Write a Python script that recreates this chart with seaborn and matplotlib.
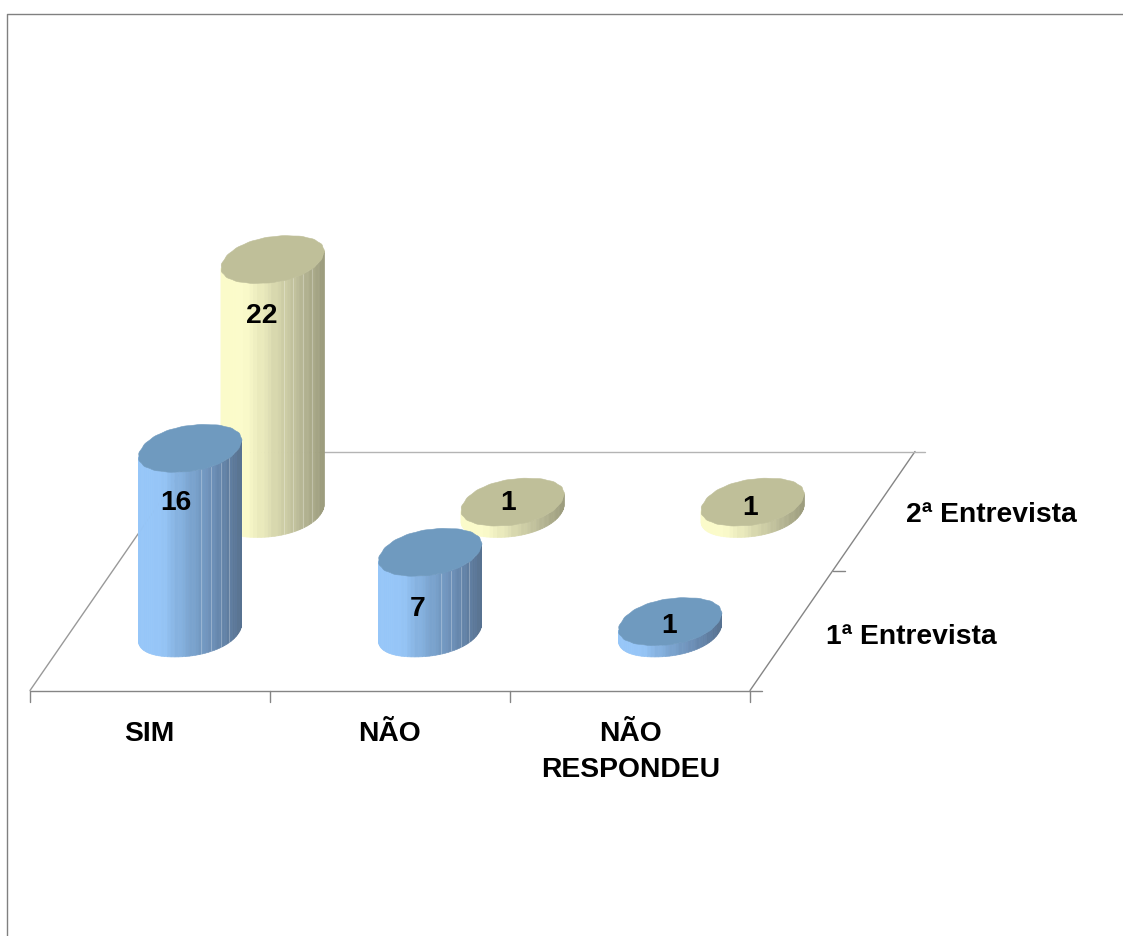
import numpy as np
import pandas as pd
import matplotlib
matplotlib.use("Agg")
import matplotlib.pyplot as plt
import seaborn as sns

# Survey answers per interview round
categories = ["SIM", "NÃO", "NÃO\nRESPONDEU"]
series_names = ["1ª Entrevista", "2ª Entrevista"]
first_round = [16, 7, 1]
second_round = [22, 1, 1]

sns.set_theme(style="white")
plt.rcParams["font.family"] = ["Liberation Sans", "DejaVu Sans"]

# Oblique projection of the floor plane onto the page
ORIGIN_X, ORIGIN_Y = 30.0, 691.5
CAT_STEP = 240.0
DEPTH_DX, DEPTH_DY = 165.0, -239.0
VALUE_STEP = -11.55
ROW_DEPTH = [0.24, 0.74]


def project(cat, depth, value=0.0):
    return (ORIGIN_X + CAT_STEP * cat + DEPTH_DX * depth,
            ORIGIN_Y + DEPTH_DY * depth + VALUE_STEP * value)


def floor_line(ax, start, end, color, lw=1.0):
    # end points are given in category / depth units
    pts = pd.DataFrame([project(*start), project(*end)], columns=["x", "y"])
    sns.lineplot(data=pts, x="x", y="y", ax=ax, color=color, lw=lw, sort=False,
                 estimator=None, errorbar=None, legend=False)


# Footprint of a cylinder: a sheared, slightly squared ellipse
RADIUS_A, RADIUS_B, RADIUS_C = 48.5, 15.5, 23.8
ROUNDNESS = 0.93
FACETS = 96
STREAKS = (0.61, 0.70, 0.80, 0.88)

side_blue = sns.blend_palette(["#96C6F8", "#96C5F7", "#82AEDB", "#7399C2", "#6585AB", "#546D8B"], 100)
side_yellow = sns.blend_palette(["#FBFBCA", "#FBFBCB", "#E6E6B9", "#CCCCA5", "#B4B492", "#979779"], 100)
top_blue = "#6F9ABF"
top_yellow = "#BFBF99"


def outline(cx, cy, t, scallop=0.0):
    c = np.sign(np.cos(t)) * np.abs(np.cos(t)) ** ROUNDNESS
    s = np.sign(np.sin(t)) * np.abs(np.sin(t)) ** ROUNDNESS
    r = 1 + scallop * np.cos(19 * t)
    return (cx + r * (RADIUS_A * c + RADIUS_B * s),
            cy - r * RADIUS_C * s)


def draw_cylinder(ax, cat, depth, value, palette, top_color):
    cx, base_y = project(cat, depth)
    cx += 0.5
    _, top_y = project(cat, depth, value)
    # walk along the front half of the outline, between the two x extremes
    t = np.linspace(0, 2 * np.pi, 721)
    x_all, _ = outline(cx, 0, t)
    t_right = t[np.argmax(x_all)]
    t_left = t[np.argmin(x_all)]
    front = np.linspace(t_left, t_right + 2 * np.pi, FACETS // 2 + 1)
    xs, base = outline(cx, base_y, front)
    _, top = outline(cx, top_y, front)
    left, right = x_all.min(), x_all.max()
    for i in range(len(front) - 1):
        frac = (0.5 * (xs[i] + xs[i + 1]) - left) / (right - left)
        # banded shading, in the style of a faceted surface
        band = np.floor(frac * 22) / 22
        color = palette[int(np.clip(band, 0, 0.999) * 100)]
        ax.fill([xs[i], xs[i + 1], xs[i + 1], xs[i]],
                [base[i], base[i + 1], top[i + 1], top[i]],
                facecolor=color, edgecolor=color, lw=0.5, zorder=3)
    if value > 2:
        for frac in STREAKS:
            sx = left + frac * (right - left)
            ax.plot([sx, sx],
                    [np.interp(sx, xs, base), np.interp(sx, xs, top)],
                    color="white", alpha=0.28, lw=0.7, zorder=3.1)
    cap_t = np.linspace(0, 2 * np.pi, FACETS * 3 + 1)
    cap_x, cap_y = outline(cx, top_y, cap_t, scallop=0.007)
    ax.fill(cap_x, cap_y, facecolor=top_color, edgecolor=top_color, lw=0.4, zorder=3.2)
    return cx, top_y


fig = plt.figure(figsize=(11.23, 9.37), dpi=100)
ax = fig.add_axes([0, 0, 1, 1])
ax.set_xlim(0, 1123)
ax.set_ylim(937, 0)
ax.axis("off")

# Outer chart frame
ax.plot([7.0, 7.0, 1123], [937, 14.5, 14.5], color="#808080", lw=1.0, zorder=1)

# Floor outline with tick marks
LINE = "#858585"
floor_line(ax, (0, 0), (3, 0), LINE)
floor_line(ax, (0, 0), (0, 1), "#999999")
floor_line(ax, (3, 0), (3, 1), LINE)
floor_line(ax, (0, 1), (3 + 10 / CAT_STEP, 1), "#B4B4B4")
for cat in range(len(categories) + 1):
    x0, y0 = project(cat, 0)
    ax.plot([x0, x0], [y0, y0 + 11], color=LINE, lw=1.0, zorder=1)
for depth in (0, 0.5):
    x0, y0 = project(3, depth)
    ax.plot([x0, x0 + 12], [y0, y0], color=LINE, lw=1.0, zorder=1)

# Value labels sit at a per-bar offset from the centre of the cap
label_shift_first = [(-14.5, 54), (-12.5, 56), (-1.5, 3)]
label_shift_second = [(-11, 55), (-4.5, 0), (-2.5, 5)]

rows = [(second_round, ROW_DEPTH[1], side_yellow, top_yellow, label_shift_second),
        (first_round, ROW_DEPTH[0], side_blue, top_blue, label_shift_first)]

FONT = 20.3
for values, depth, palette, cap, shifts in rows:
    for i, value in enumerate(values):
        cx, top_y = draw_cylinder(ax, i + 0.5, depth, value, palette, cap)
        dx, dy = shifts[i]
        ax.text(cx + dx, top_y + dy, str(value), ha="center", va="center",
                fontsize=FONT, fontweight="bold", color="black", zorder=5)

# Category labels under the front edge
for i, name in enumerate(categories):
    x0, y0 = project(i + 0.5, 0)
    ax.text(x0 - 0.5 + (i == 2), y0 + 30, name, ha="center", va="top", fontsize=FONT,
            fontweight="bold", color="black", linespacing=1.5)

# Series labels beside the right edge
for name, depth, dx, dy in zip(series_names, (0.25, 0.75), (120, 118), (5, 3)):
    x0, y0 = project(3, depth)
    ax.text(x0 + dx, y0 + dy, name, ha="center", va="center", fontsize=FONT,
            fontweight="bold", color="black")

fig.savefig("out.png", dpi=100, facecolor="white")
